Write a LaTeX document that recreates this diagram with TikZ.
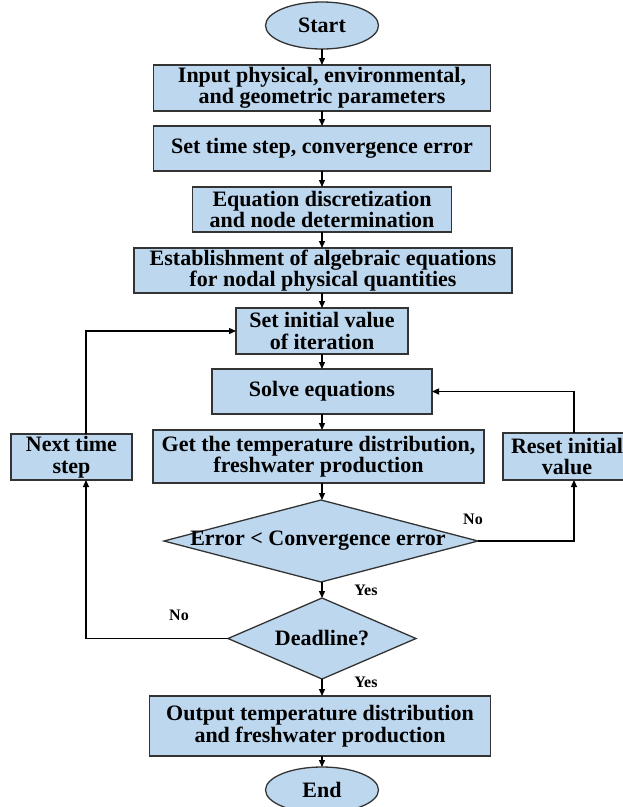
\documentclass[tikz,border=0pt]{standalone}
\usepackage{fontspec}
\setmainfont{Liberation Serif}
\usetikzlibrary{shapes.geometric,arrows.meta}
\definecolor{boxfill}{HTML}{BDD7EE}
\definecolor{boxline}{HTML}{333333}
\begin{document}
\begin{tikzpicture}[x=1pt,y=-1pt,
  base/.style={draw=boxline, line width=1.3pt, fill=boxfill, inner sep=0pt, outer sep=0pt,
    align=center, font=\fontsize{22}{21.5}\selectfont\bfseries},
  procbox/.style={base, rectangle},
  termbox/.style={base, ellipse},
  decbox/.style={base, diamond},
  txt/.style={inner sep=0pt, align=center, font=\fontsize{22}{21.5}\selectfont\bfseries},
  lbl/.style={inner sep=0pt, font=\fontsize{16}{16}\selectfont\bfseries},
  arr/.style={draw=black, line width=1.3pt, -{Triangle[length=7pt,width=6pt]}},
  ln/.style={draw=black, line width=1.3pt}]
\useasboundingbox (0,0) rectangle (623,807);
\clip (0,0) rectangle (623,807);

\node[termbox, minimum width=113pt, minimum height=47pt] (start) at (322,25.5) {Start};
\node[procbox, minimum width=337pt, minimum height=46pt] (input) at (322,88) {Input physical, environmental,\\and geometric parameters};
\node[procbox, minimum width=337pt, minimum height=45pt] (tstep) at (322,148.5) {Set time step, convergence error};
\node[procbox, minimum width=259pt, minimum height=45pt] (disc) at (322,209.5) {Equation discretization\\and node determination};
\node[procbox, minimum width=378pt, minimum height=45pt] (alg) at (323,270.5) {Establishment of algebraic equations\\for nodal physical quantities};
\node[procbox, minimum width=172pt, minimum height=46pt] (init) at (322,331) {Set initial value\\of iteration};
\node[procbox, minimum width=220pt, minimum height=45pt] (solve) at (322,391.5) {Solve equations};
\node[procbox, minimum width=331pt, minimum height=53pt] (get) at (318.5,456.5) {Get the temperature distribution,\\freshwater production};
\node[procbox, minimum width=121pt, minimum height=46pt] (next) at (71.5,457) {Next time\\step};
\node[procbox, minimum width=128pt, minimum height=47pt] (reset) at (567,456.5) {Reset initial\\value};
\node[decbox, minimum width=314pt, minimum height=82pt] (dia1) at (321,541) {};
\node[txt] (dia1t) at (318,541) {Error < Convergence error};
\node[decbox, minimum width=188pt, minimum height=81pt] (dia2) at (322,638.5) {};
\node[txt] (dia2t) at (322,638.5) {Deadline?};
\node[procbox, minimum width=341pt, minimum height=60pt] (out) at (320,726) {Output temperature distribution\\and freshwater production};
\node[termbox, minimum width=113pt, minimum height=46pt] (end) at (322,790) {End};

\draw[arr] (start.south) -- (start.south |- input.north);
\draw[arr] (input.south) -- (input.south |- tstep.north);
\draw[arr] (tstep.south) -- (tstep.south |- disc.north);
\draw[arr] (disc.south) -- (disc.south |- alg.north);
\draw[arr] (init.north |- alg.south) -- (init.north);
\draw[arr] (init.south) -- (init.south |- solve.north);
\draw[arr] (solve.south) -- (solve.south |- get.north);
\draw[arr] (solve.south |- get.south) -- (dia1.north -| solve.south);
\draw[arr] (dia1.south -| dia2.north) -- (dia2.north);
\draw[arr] (dia2.south) -- (dia2.south |- out.north);
\draw[arr] (end.north |- out.south) -- (end.north);

\draw[arr] (dia1.east) -| ([xshift=7pt]reset.south);
\draw[arr] ([xshift=7pt]reset.north) |- (solve.east);
\draw[arr] (dia2.west) -| ([xshift=14.5pt]next.south);
\draw[arr] ([xshift=14.5pt]next.north) |- (init.west);

\node[lbl] (no1) at (473,519) {No};
\node[lbl] (yes1) at (366,590) {Yes};
\node[lbl] (no2) at (179,615) {No};
\node[lbl] (yes2) at (366,682) {Yes};
\end{tikzpicture}
\end{document}
